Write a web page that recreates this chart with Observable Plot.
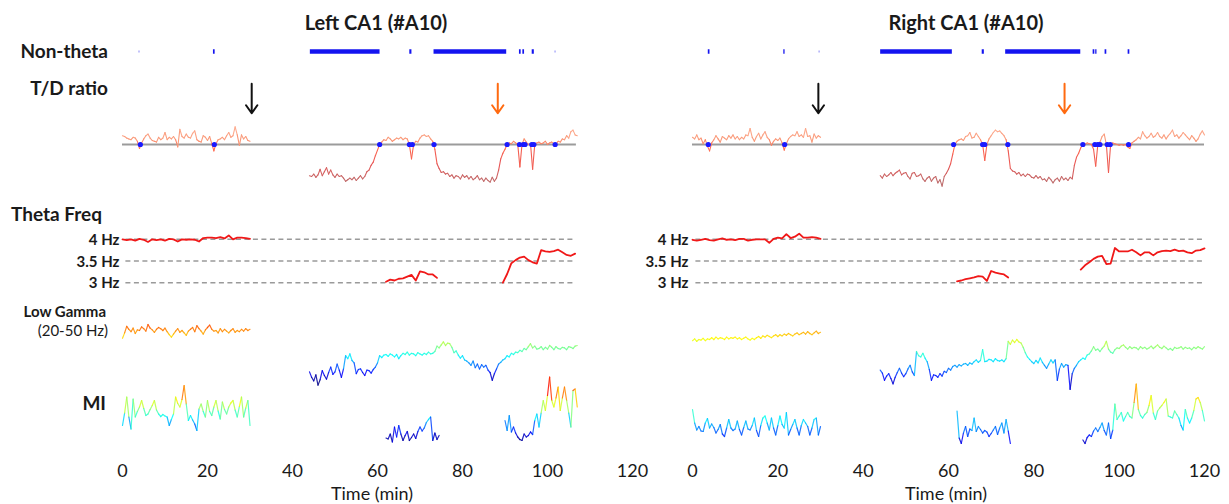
<!DOCTYPE html>
<html><head><meta charset="utf-8">
<script src="https://cdn.jsdelivr.net/npm/d3@7"></script>
<script src="https://cdn.jsdelivr.net/npm/@observablehq/plot@0.6"></script>
<style>
html,body{margin:0;padding:0;background:#fff;}
#fig{position:relative;width:1229px;height:504px;overflow:hidden;background:#fff;font-family:Lato,"Open Sans",sans-serif;color:#1a1a1a;}
.lbl{position:absolute;white-space:nowrap;line-height:1;}
</style></head><body><div id="fig"></div>
<script>
// ================= DATA =================
const xTicks = [0, 20, 40, 60, 80, 100, 120];
const freqTicks = [3, 3.5, 4];
const panelTitles = ["Left CA1 (#A10)", "Right CA1 (#A10)"];

// Non-theta periods (min)
const nonThetaStartL = [21.4, 44.2, 67.6, 73.3, 93.4, 94.2, 96.4];
const nonThetaEndL   = [21.8, 60.6, 68.1, 90.4, 93.8, 94.6, 96.9];
const nonThetaFaintL = [4.0, 101.9];
const nonThetaStartR = [3.7, 21.4, 44.1, 67.9, 73.4, 93.9, 94.5, 96.7, 102.1];
const nonThetaEndR   = [4.1, 21.7, 60.9, 68.4, 91.0, 94.3, 94.8, 97.1, 102.5];
const nonThetaFaintR = [29.8];

// Transition markers on T/D baseline (min)
const tdMarksL = [4.2, 21.6, 60.5, 67.5, 68.2, 73.3, 90.5, 93.4, 94.3, 94.7, 96.3, 96.8, 101.8];
const tdMarksR = [3.7, 21.6, 61.2, 68.0, 68.5, 73.9, 91.5, 94.3, 95.0, 95.5, 97.2, 97.9, 102.2];

// Arrow times (min)
const arrowBlack = [30.4, 29.5];
const arrowOrange = [88.3, 87.2];

// T/D ratio (log units, 0 = threshold), step 0.5 min
const tdLeftA = [0.55,0.5,0.4,0.35,0.3,0.45,0.4,0.2,-0.25,0.1,
 0.35,0.55,0.65,0.4,0.25,0.2,0.15,0.45,0.3,0.4,
 0.75,0.3,0.45,0.35,0.5,0.3,-0.15,0.95,0.5,0.4,
 0.65,0.45,0.4,0.7,0.85,0.3,0.2,0.15,0.55,0.45,
 0.25,0.5,0.05,-0.4,0.05,0.3,0.35,0.45,0.3,0.55,
 0.75,0.45,0.55,1.1,0.6,-0.05,0.6,0.35,0.5,0.25,0.2]; // t 0..30
const tdLeftB = [-1.95,-2.0,-1.85,-2.05,-1.9,-1.55,-1.95,-1.7,-1.45,-1.85,
 -1.6,-1.9,-2.05,-1.85,-2.0,-1.95,-2.1,-2.3,-2.2,-2.1,
 -2.2,-2.05,-2.25,-2.1,-1.95,-2.15,-2.0,-1.7,-1.6,-1.3,
 -1.1,-0.7,-0.35,0.0,0.15,0.3,0.25,0.45,0.35,0.2,
 0.3,0.4,0.35,0.45,0.3,0.4,0.35,0.0,-0.9,0.0,
 0.2,0.15,0.4,0.55,0.6,0.5,0.55,0.35,0.2,-0.3,
 -1.2,-1.5,-1.75,-1.7,-1.85,-1.8,-2.0,-1.9,-2.1,-1.95,
 -2.0,-2.15,-1.9,-2.05,-1.95,-2.15,-2.0,-2.2,-2.1,-1.95,
 -2.2,-2.1,-2.3,-2.1,-2.25,-2.35,-2.05,-2.3,-2.1,-1.6,
 -0.9,-0.55,-0.3,0.0,0.1,0.05,0.2,0.1,0.0,-1.4,
 0.0,0.35,0.15,0.0,0.05,-1.55,0.0,0.1,0.15,0.05,
 0.1,0.2,0.0,0.1,0.15,0.05,0.0,0.2,0.15,0.35,
 0.3,0.55,0.4,0.8,0.9,0.6,0.55]; // t 44..107
const tdRightA = [0.45,0.35,0.6,0.3,0.4,0.05,0.3,-0.1,-0.4,0.1,
 0.3,0.55,0.35,0.15,0.5,0.4,0.3,0.55,0.4,0.6,
 0.35,0.5,0.3,0.45,0.35,0.6,0.55,1.0,0.45,0.2,
 0.5,0.7,0.35,0.6,0.8,0.45,0.3,-0.05,0.2,0.35,
 0.25,0.4,0.1,-0.35,0.05,0.35,0.5,0.6,0.55,0.8,
 0.5,0.6,0.45,1.0,0.5,0.55,0.15,0.65,0.4,0.55,0.45]; // t 0..30
const tdRightB = [-1.95,-2.1,-1.85,-2.0,-1.9,-1.75,-1.95,-1.8,-1.7,-1.6,
 -1.9,-1.8,-1.75,-2.0,-2.15,-1.8,-1.75,-2.0,-1.95,-1.85,
 -2.15,-2.3,-2.1,-2.0,-2.3,-2.1,-2.0,-2.4,-2.2,-2.6,
 -2.0,-1.8,-1.55,-1.2,-0.6,0.0,0.2,0.3,0.35,0.25,
 0.5,0.55,0.75,0.4,0.45,0.7,0.5,0.3,0.0,-1.0,
 0.0,0.35,0.55,0.75,0.9,0.8,0.85,0.7,0.55,0.3,
 -0.4,-1.5,-1.65,-1.7,-1.85,-1.75,-1.95,-1.85,-2.0,-1.85,
 -1.9,-2.05,-2.1,-1.95,-2.1,-2.0,-2.2,-2.15,-2.3,-2.05,
 -2.2,-2.4,-2.2,-2.1,-2.3,-2.0,-2.2,-2.1,-2.25,-2.05,
 -2.15,-1.3,-0.8,-0.55,-0.2,0.0,0.0,0.1,0.05,0.0,
 -0.3,-1.35,0.0,0.15,0.5,0.65,0.0,-1.75,0.0,0.1,
 0.05,0.0,-0.05,0.0,-0.05,0.0,-0.15,-0.25,0.1,0.2,
 0.3,0.45,0.35,0.8,0.55,0.4,0.5,0.7,0.45,0.55,
 0.75,0.5,0.4,0.6,0.35,0.55,0.7,0.9,0.5,0.6,
 0.4,0.55,0.75,0.6,0.45,0.3,0.55,0.4,0.2,0.35,
 0.65,0.85,0.6]; // t 44..120

// Theta frequency (Hz)
const thetaLeftA = [4.0,3.98,4.0,3.97,4.01,3.99,3.94,4.0,3.98,4.0,3.97,4.01,4.0,3.95,4.0,3.99,
 4.0,3.99,3.95,4.03,4.04,4.04,4.03,4.05,4.02,4.09,4.0,4.04,4.04,4.03,4.01]; // t 0..30 step 1
const thetaLeftB = [3.02,3.07,3.05,3.09,3.1,3.14,3.18,3.05,3.26,3.24,3.19,3.19,3.11]; // t 62..74 step 1
const thetaLeftC = [3.0,3.2,3.45,3.52,3.58,3.6,3.52,3.47,3.44,3.75,3.72,3.71,3.73,3.76,3.7,3.64,3.62,3.67]; // t 89.5.. step 1
const thetaRightA = [3.99,3.97,3.99,4.01,3.98,3.97,4.0,4.02,3.99,4.0,3.98,4.01,4.01,3.97,3.99,4.0,
 4.0,4.0,3.92,4.01,4.04,4.02,4.12,4.03,4.06,4.13,4.04,4.04,4.05,4.04,4.01]; // t 0..30
const thetaRightB = [3.03,3.05,3.08,3.1,3.12,3.15,3.14,3.04,3.27,3.23,3.21,3.19,3.12]; // t 62..74
const thetaRightC = [3.3,3.4,3.47,3.55,3.6,3.62,3.43,3.44,3.8,3.72,3.72,3.72,3.76,3.7,3.63,
 3.7,3.7,3.63,3.7,3.73,3.74,3.73,3.76,3.73,3.74,3.7,3.68,3.74,3.75,3.79]; // t 91..120

// Low gamma power (a.u.), step 0.5 min
const gammaLeftA = [8.7,9.6,10.7,10.2,9.8,10.4,9.5,10.1,10.0,10.6,
 10.3,9.9,11.0,10.4,10.1,9.7,10.2,10.5,10.3,10.0,
 10.4,9.8,9.3,8.9,9.4,9.9,10.3,9.7,10.0,9.6,
 9.2,9.9,10.2,10.5,9.8,10.8,10.3,9.9,9.4,10.1,
 10.5,10.9,10.2,9.9,10.0,9.6,10.3,9.8,10.2,9.9,
 9.6,10.0,10.3,9.7,10.0,9.8,10.2,9.9,10.3,10.0,10.2]; // t 0..30
const gammaLeftB = [3.1,2.2,1.6,2.6,0.9,1.8,3.3,2.5,1.9,3.0,
 3.9,2.7,3.1,4.4,3.4,2.2,3.6,5.8,5.3,6.1,
 5.0,4.6,2.8,3.5,3.6,3.0,2.5,3.4,3.3,2.9,
 3.5,3.9,4.6,5.8,5.5,5.9,6.0,5.7,6.1,5.9,
 5.6,6.0,5.3,5.8,6.2,6.0,6.4,5.9,6.2,6.1,
 5.8,6.3,6.1,5.9,6.2,6.0,6.4,6.1,6.2,6.5,
 7.4,7.1,7.6,8.1,7.5,7.9,7.8,7.2,6.3,6.6,
 5.9,5.4,5.8,5.1,4.9,4.6,4.2,4.9,3.8,4.4,
 3.6,4.3,3.9,4.2,3.4,3.0,1.7,2.8,3.6,4.4,
 4.7,5.1,5.3,5.8,5.6,6.2,6.0,6.4,6.3,6.7,
 6.5,7.0,6.8,7.3,7.8,7.1,7.4,6.9,7.0,7.3,
 6.8,7.2,6.9,7.5,7.2,6.8,7.3,7.0,6.9,7.2,
 7.1,6.8,7.3,7.2,7.0,7.4,7.5]; // t 44..107
const gammaRightA = [8.3,8.6,8.2,8.5,8.4,8.7,8.3,8.6,8.5,8.8,
 8.5,8.9,8.6,8.8,8.7,8.5,8.9,8.6,8.8,8.7,
 8.9,8.6,8.8,8.5,8.7,8.9,8.6,8.4,8.7,8.5,
 8.8,9.0,8.7,9.1,8.9,9.2,9.0,8.8,9.1,9.3,
 9.0,9.3,9.1,9.4,9.2,9.5,9.3,9.1,9.4,9.6,
 9.3,9.5,9.7,9.4,9.8,9.5,9.3,9.6,9.9,9.5,9.7]; // t 0..30
const gammaRightB = [3.4,2.9,1.7,2.4,2.8,2.0,1.1,2.2,3.0,3.7,
 2.9,2.3,2.8,3.6,4.2,3.1,2.5,6.5,5.8,5.6,
 6.2,5.4,4.8,3.5,1.7,2.6,2.5,2.2,2.8,2.4,
 3.2,3.0,3.7,3.4,4.0,4.2,3.9,4.3,4.1,4.4,
 4.5,4.2,4.6,4.4,4.8,5.1,4.7,5.0,6.8,4.8,
 4.9,5.2,5.1,4.8,5.3,5.0,4.9,5.1,4.8,5.3,
 8.2,7.7,8.4,8.0,8.5,8.1,7.9,7.2,6.3,5.6,
 5.2,4.8,4.5,5.0,4.6,5.4,4.7,4.2,3.7,4.4,
 5.1,4.6,5.1,1.7,3.6,4.5,3.9,4.3,4.2,0.2,
 2.8,3.7,4.2,4.8,5.1,5.4,5.2,5.9,6.1,6.6,
 7.3,6.7,6.9,6.5,7.0,7.4,8.2,6.9,6.4,6.2,
 6.8,7.1,7.0,7.4,7.6,7.2,6.9,7.3,7.0,7.2,
 7.1,6.8,7.3,7.0,7.2,6.9,7.1,7.4,7.0,7.3,
 7.6,7.2,7.0,7.4,7.1,6.8,7.0,6.7,7.2,7.0,
 7.1,7.3,6.9,7.2,7.0,7.1,6.8,7.2,7.0,7.3,
 7.1,6.9,7.3]; // t 44..120

// Modulation index (a.u.), step 0.5 min
const miLeftA = [5.0,7.5,10.7,6.7,4.3,10.3,6.7,7.8,8.7,10.0,
 8.4,7.0,7.3,8.2,9.0,10.0,8.1,7.3,6.8,7.2,
 6.9,6.7,5.0,6.2,7.3,10.7,9.4,8.7,10.2,13.0,
 9.3,6.0,7.0,6.1,5.3,4.0,8.3,9.3,7.8,6.7,
 10.0,7.8,7.0,8.7,10.0,7.9,6.3,9.7,8.2,7.3,
 8.7,9.5,10.0,8.1,6.7,8.8,10.7,6.7,8.5,10.0,5.0]; // t 0..30
const miLeftB = [2.5,2.3,3.3,1.7,4.7,2.7,5.0,3.3,2.0,3.0,3.8,2.0,2.6,3.3,2.4,3.8,
 4.7,3.9,4.5,5.6,6.2,6.7,2.0,3.5,2.2,3.0]; // t 62..74.5
const miLeftC = [6.0,4.0,7.0,3.7,4.7,3.5,2.7,2.2,2.0,3.3,
 2.7,3.0,3.7,3.2,6.0,7.3,4.7,7.5,10.0,8.0,
 11.0,14.7,10.0,8.7,10.5,12.7,8.0,10.5,12.7,10.0,
 7.5,4.7,12.0,12.3,8.7]; // t 90..107
const miRightA = [8.2,5.5,4.1,4.8,3.9,3.8,5.5,6.4,4.5,5.3,
 4.6,3.5,4.2,5.2,3.3,2.8,4.5,6.2,4.5,4.0,
 4.3,5.9,4.2,3.1,4.6,5.9,4.3,4.1,5.0,6.5,
 4.0,2.8,5.0,6.5,6.9,5.5,4.1,6.5,4.5,3.1,
 5.0,6.9,5.2,4.5,7.6,3.1,4.2,5.2,6.2,4.5,
 3.1,5.0,6.2,5.5,4.8,3.1,4.5,6.2,6.5,3.1,4.8]; // t 0..30
const miRightB = [7.9,2.5,1.4,3.5,4.8,2.8,4.3,4.0,6.5,3.8,4.8,4.2,3.5,4.0,3.7,2.8,
 3.4,4.1,4.8,3.2,4.5,5.5,3.5,6.2,3.9,1.4]; // t 62..74.5
const miRightC = [2.1,1.4,2.6,3.1,2.8,3.9,4.5,3.8,4.6,5.5,
 4.0,3.1,5.5,2.4,4.1,9.3,6.2,6.9,7.6,5.9,
 6.8,7.6,6.8,6.5,9.6,13.3,8.2,7.0,6.5,7.2,
 7.6,9.0,11.0,7.5,6.2,7.9,8.5,9.0,9.6,10.3,
 6.9,6.7,6.5,7.9,7.2,6.5,5.0,4.1,8.2,6.5,
 5.5,6.5,8.0,10.3,10.6,9.6,8.0,5.9]; // t 91.5..120

// ================= HELPERS =================
const fig = document.getElementById("fig");
const FONT = 'Lato, "Open Sans", sans-serif';
const segs = (t0, step, vals) => vals.slice(1).map((v, i) => ({x1: t0 + i*step, x2: t0 + (i+1)*step, y1: vals[i], y2: v, c: (vals[i] + v)/2}));
const pts = (t0, step, vals, seg) => vals.map((v, i) => ({t: t0 + i*step, v, seg}));
const jetStops = [0, 0.125, 0.375, 0.625, 0.875, 1];
const jetColors = ["#00007f", "#0000ff", "#00ffff", "#ffff00", "#ff0000", "#7f0000"];
const jet = (a, b) => ({type: "linear", domain: jetStops.map(f => a + f*(b - a)), range: jetColors, interpolate: "rgb", clamp: true});

function label(text, x, cy, anchor, size, weight) {
  const d = document.createElement("div");
  d.className = "lbl";
  d.textContent = text;
  d.style.left = x + "px";
  d.style.top = cy + "px";
  d.style.fontSize = size + "px";
  d.style.fontWeight = weight;
  const tx = anchor === "end" ? "-100%" : anchor === "middle" ? "-50%" : "0";
  d.style.transform = `translate(${tx},-50%)`;
  fig.appendChild(d);
}
function place(svg, left, top) {
  svg.style.position = "absolute";
  svg.style.left = left + "px";
  svg.style.top = top + "px";
  fig.appendChild(svg);
}
function row(p, top, height, yDomain, marks, color) {
  const opts = {
    width: p.width, height, marginLeft: p.ml, marginRight: p.mr, marginTop: 0, marginBottom: 0,
    x: {domain: [0, 120], axis: null},
    y: {domain: yDomain, axis: null},
    marks,
    style: {background: "transparent", overflow: "visible", fontFamily: FONT}
  };
  if (color) opts.color = color;
  place(Plot.plot(opts), p.left, top);
}

// ================= PANELS =================
const panels = [
  {left: 0, width: 640, ml: 122, mr: 8, lineEnd: 106.8, tickDx: -3, titleX: 376, timeX: 372,
   ntS: nonThetaStartL, ntE: nonThetaEndL, ntF: nonThetaFaintL, marks: tdMarksL,
   tdA: tdLeftA, tdB: tdLeftB, thA: thetaLeftA, thB: thetaLeftB, thC: thetaLeftC, thCt0: 89.5,
   gA: gammaLeftA, gB: gammaLeftB, gJet: [1.5, 13], miA: miLeftA, miB: miLeftB, miC: miLeftC, miCt0: 90, miJet: [2, 14.6]},
  {left: 640, width: 589, ml: 52, mr: 25, lineEnd: 120, tickDx: -4, titleX: 966, timeX: 946,
   ntS: nonThetaStartR, ntE: nonThetaEndR, ntF: nonThetaFaintR, marks: tdMarksR,
   tdA: tdRightA, tdB: tdRightB, thA: thetaRightA, thB: thetaRightB, thC: thetaRightC, thCt0: 91,
   gA: gammaRightA, gB: gammaRightB, gJet: [0.5, 13.5], miA: miRightA, miB: miRightB, miC: miRightC, miCt0: 91.5, miJet: [0.8, 15.2]}
];

const tdColor = {type: "linear", domain: [-2.5, -1.2, -0.2, 0.3, 1.1],
  range: ["#b87070", "#e85555", "#ff6a50", "#f99878", "#ffb49a"], interpolate: "rgb", clamp: true};

panels.forEach((p, k) => {
  // Non-theta
  const periods = p.ntS.map((s, i) => ({s, e: p.ntE[i]}));
  row(p, 41, 20, [0, 1], [
    Plot.ruleY(periods, {y: () => 0.5, x1: "s", x2: "e", stroke: "#1414f0", strokeWidth: 4.5}),
    Plot.ruleY(p.ntF, {y: () => 0.5, x1: d => d - 0.2, x2: d => d + 0.2, stroke: "#1414f0", strokeOpacity: 0.3, strokeWidth: 2})
  ]);

  // T/D ratio
  const td = segs(0, 0.5, p.tdA).concat(segs(44, 0.5, p.tdB));
  row(p, 72, 128, [-3.5, 4.5], [
    Plot.ruleY([0], {x1: () => 0, x2: () => p.lineEnd, stroke: "#9b9b9b", strokeWidth: 2}),
    Plot.link(td, {x1: "x1", y1: "y1", x2: "x2", y2: "y2", stroke: "c", strokeWidth: 1.1, strokeLinecap: "round"}),
    Plot.dot(p.marks, {x: d => d, y: () => 0, r: 2.6, fill: "#1a1aff", stroke: "none"}),
    Plot.arrow([arrowBlack[k]], {x1: d => d, x2: d => d, y1: () => 3.8, y2: () => 1.95, stroke: "#111", strokeWidth: 2, headLength: 11, headAngle: 70}),
    Plot.arrow([arrowOrange[k]], {x1: d => d, x2: d => d, y1: () => 3.8, y2: () => 1.95, stroke: "#ff6a10", strokeWidth: 2, headLength: 11, headAngle: 70})
  ], tdColor);

  // Theta frequency
  const theta = pts(0, 1, p.thA, "a").concat(pts(62, 1, p.thB, "b"), pts(p.thCt0, 1, p.thC, "c"));
  row(p, 228, 65, [2.75, 4.25], [
    Plot.ruleY(freqTicks, {y: d => d, x1: () => 0.8, x2: () => p.lineEnd, stroke: "#9a9a9a", strokeWidth: 1.5, strokeDasharray: "5,3.5"}),
    Plot.text(freqTicks, {x: () => 0, y: d => d, text: d => `${d} Hz`, textAnchor: "end", dx: p.tickDx, dy: 1, fontWeight: "bold", fontSize: 15, fill: "#1a1a1a"}),
    Plot.line(theta, {x: "t", y: "v", z: "seg", stroke: "#f01818", strokeWidth: 1.8})
  ]);

  // Low gamma
  const gam = segs(0, 0.5, p.gA).concat(segs(44, 0.5, p.gB));
  row(p, 306, 84, [0, 14], [
    Plot.link(gam, {x1: "x1", y1: "y1", x2: "x2", y2: "y2", stroke: "c", strokeWidth: 1.2, strokeOpacity: 0.85, strokeLinecap: "round"})
  ], jet(p.gJet[0], p.gJet[1]));

  // MI
  const mi = segs(0, 0.5, p.miA).concat(segs(62, 0.5, p.miB), segs(p.miCt0, 0.5, p.miC));
  row(p, 370, 80, [0, 16], [
    Plot.link(mi, {x1: "x1", y1: "y1", x2: "x2", y2: "y2", stroke: "c", strokeWidth: 1.2, strokeOpacity: 0.85, strokeLinecap: "round"})
  ], jet(p.miJet[0], p.miJet[1]));

  // Time axis
  place(Plot.plot({
    width: p.width, height: 30, marginLeft: p.ml, marginRight: p.mr, marginTop: 0, marginBottom: 30,
    x: {domain: [0, 120], ticks: xTicks, tickSize: 0, tickPadding: 3, label: null, tickFormat: d => String(d)},
    marks: [Plot.ruleX(xTicks, {x: d => d, strokeOpacity: 0})],
    style: {background: "transparent", overflow: "visible", fontFamily: FONT, fontSize: "18px", color: "#1a1a1a"}
  }), p.left, 461);

  label(panelTitles[k], p.titleX, 22, "middle", 20, "bold");
  label("Time (min)", p.timeX, 493, "middle", 18, "normal");
});

// Row labels
label("Non-theta", 108, 50, "end", 19, "bold");
label("T/D ratio", 108, 87, "end", 19, "bold");
label("Theta Freq", 11, 213, "start", 19, "bold");
label("Low Gamma", 106, 311, "end", 15, "bold");
label("(20-50 Hz)", 108, 330, "end", 15, "normal");
label("MI", 106, 402, "end", 19, "bold");
</script></body></html>
